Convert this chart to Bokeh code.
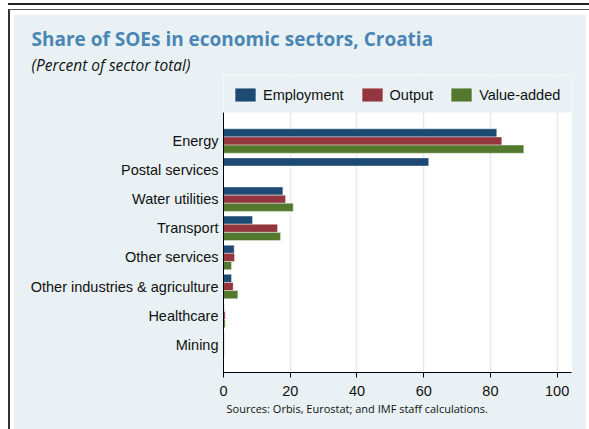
from bokeh.plotting import figure
from bokeh.models import (Range1d, Legend, LegendItem, Title, ColumnDataSource,
                          FixedTicker, BoxAnnotation)
from bokeh.transform import dodge
from bokeh.layouts import column
from bokeh.embed import file_html
from bokeh.resources import INLINE

sectors = ["Energy", "Postal services", "Water utilities", "Transport",
           "Other services", "Other industries & agriculture", "Healthcare", "Mining"]
employment = [81.9, 61.5, 17.8, 8.7, 3.2, 2.4, 0.2, 0.2]
output = [83.4, float("nan"), 18.6, 16.2, 3.3, 2.9, 0.5, 0.2]
value_added = [90.0, float("nan"), 20.9, 17.1, 2.4, 4.3, 0.5, 0.2]
x_ticks = [0, 20, 40, 60, 80, 100]

PANEL = "#E9F1F4"
C_EMP = "#1D4A73"
C_OUT = "#94363D"
C_VA = "#52792D"
TXT = "#111111"

n = len(sectors)
pos = [n - 1 - i for i in range(n)]          # first sector on top
PLOT_TOP = n - 1 + 0.98                      # upper edge of the white plot area
src = ColumnDataSource(dict(pos=pos, sector=sectors, employment=employment,
                            output=output, value_added=value_added))

p = figure(y_range=Range1d(-0.955, PLOT_TOP + 1.271), x_range=Range1d(0, 104.3),
           width=573, height=415, title=None,
           output_backend="svg", toolbar_location=None,
           min_border_left=210, min_border_right=15,
           min_border_top=61, min_border_bottom=57)
p.background_fill_color = "white"
p.border_fill_color = PANEL
p.outline_line_color = None

bw = 0.28
common = dict(source=src, left=0, height=bw, line_color="white", line_alpha=0.5, line_width=0.8)
r_emp = p.hbar(y=dodge("pos", bw), right="employment", fill_color=C_EMP, **common)
r_out = p.hbar(y=dodge("pos", 0), right="output", fill_color=C_OUT, **common)
r_va = p.hbar(y=dodge("pos", -bw), right="value_added", fill_color=C_VA, **common)

p.ygrid.visible = False
p.xgrid.grid_line_color = "#E3ECF0"
p.xgrid.grid_line_width = 1.5

p.xaxis.ticker = x_ticks
p.xaxis.major_tick_out = 5
p.xaxis.major_tick_in = 0
p.xaxis.minor_tick_out = 0
p.xaxis.minor_tick_in = 0
p.xaxis.axis_line_color = "black"
p.xaxis.major_tick_line_color = "black"
p.xaxis.major_label_text_font = "Liberation Sans"
p.xaxis.major_label_text_font_size = "14.5px"
p.xaxis.major_label_text_color = TXT
p.xaxis.major_label_standoff = 8

p.yaxis.ticker = FixedTicker(ticks=pos)
p.yaxis.major_label_overrides = {k: s for k, s in zip(pos, sectors)}
p.yaxis.bounds = (-0.955, PLOT_TOP)
p.yaxis.major_tick_out = 0
p.yaxis.major_tick_in = 0
p.yaxis.minor_tick_out = 0
p.yaxis.minor_tick_in = 0
p.yaxis.axis_line_color = "black"
p.yaxis.major_label_text_font = "Liberation Sans"
p.yaxis.major_label_text_font_size = "14.5px"
p.yaxis.major_label_text_color = TXT
p.yaxis.major_label_standoff = 5

# strip above the white plot area, holding the legend
p.add_layout(BoxAnnotation(bottom=PLOT_TOP, fill_color=PANEL, fill_alpha=1.0,
                           line_color=None))

legend = Legend(items=[LegendItem(label="Employment", renderers=[r_emp]),
                       LegendItem(label="Output", renderers=[r_out]),
                       LegendItem(label="Value-added", renderers=[r_va])],
                orientation="horizontal", location=(9, 269),
                glyph_width=26, glyph_height=17, label_standoff=5, spacing=15,
                padding=0, margin=0, border_line_color=None,
                background_fill_alpha=0, label_height=14,
                label_text_font="Liberation Sans", label_text_font_size="14.5px",
                label_text_color=TXT)
p.add_layout(legend)

p.add_layout(Title(text="(Percent of sector total)", align="left", offset=-192,
                   text_font="Open Sans", text_font_size="15.5px",
                   text_font_style="italic", text_color=TXT, standoff=0), "above")
p.add_layout(Title(text="Share of SOEs in economic sectors, Croatia", align="left",
                   offset=-192, text_font="Open Sans", text_font_size="19px",
                   text_font_style="bold", text_color="#4A86B5", standoff=0), "above")

p.add_layout(Title(text="Sources: Orbis, Eurostat; and IMF staff calculations.",
                   align="left", offset=3, text_font="Open Sans",
                   text_font_size="11px", text_font_style="normal",
                   text_color=TXT, standoff=0), "below")

box = column(p, styles={"margin-left": "8px",
                        "margin-top": "9px",
                        "border-left": "2px solid #333333",
                        "border-top": "1px solid #555555",
                        "padding": "4px 3px 0px 3px",
                        "background-color": "white",
                        "box-shadow": "0px -4px 0px 0px white, 0px -6px 0px 0px #222222"})

open("out.html", "w").write(file_html(box, INLINE))
